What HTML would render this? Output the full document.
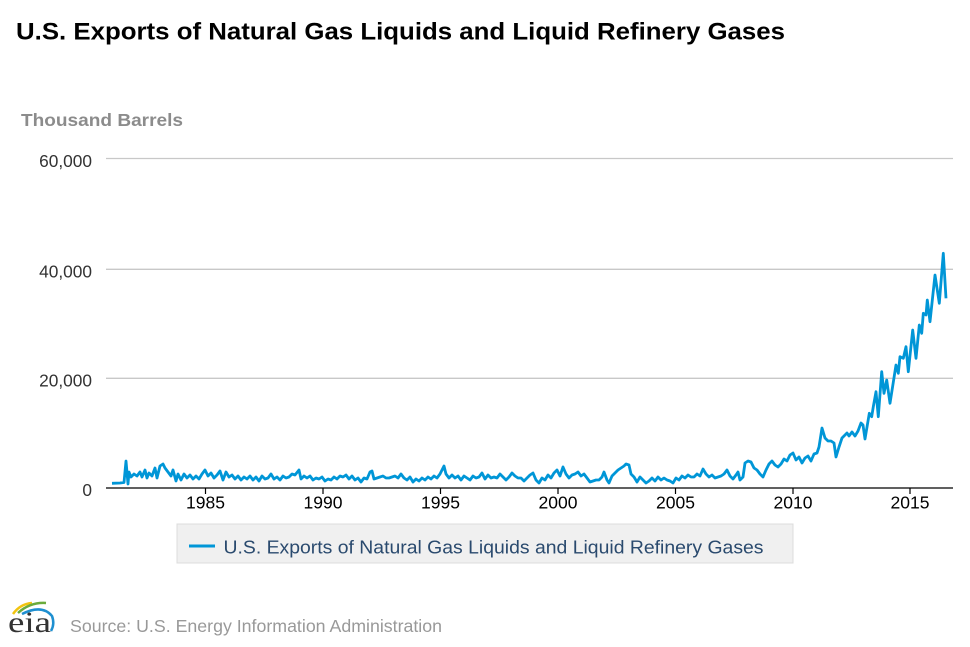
<!DOCTYPE html>
<html><head><meta charset="utf-8"><style>
html,body{margin:0;padding:0;background:#fff;}
svg{display:block;font-family:"Liberation Sans",Arial,sans-serif;}
</style></head><body>
<svg width="970" height="647" viewBox="0 0 970 647" xmlns="http://www.w3.org/2000/svg">
<rect width="970" height="647" fill="#fff"/>
<text x="16" y="39.5" font-size="24" font-weight="bold" fill="#000" textLength="769" lengthAdjust="spacingAndGlyphs">U.S. Exports of Natural Gas Liquids and Liquid Refinery Gases</text>
<text x="21" y="126" font-size="17.5" font-weight="bold" fill="#8c8c8c" textLength="162" lengthAdjust="spacingAndGlyphs">Thousand Barrels</text>
<g stroke="#c8c8c8" stroke-width="1.3">
<line x1="106" y1="158.5" x2="953" y2="158.5"/>
<line x1="106" y1="269.3" x2="953" y2="269.3"/>
<line x1="106" y1="378.3" x2="953" y2="378.3"/>
</g>
<g font-size="17.3" fill="#333" text-anchor="end">
<text x="92" y="167">60,000</text>
<text x="92" y="277.5">40,000</text>
<text x="92" y="386.5">20,000</text>
<text x="92" y="496">0</text>
</g>
<line x1="106" y1="488" x2="953" y2="488" stroke="#000" stroke-width="1.3"/>
<g stroke="#000" stroke-width="1.2">
<line x1="205.5" y1="488" x2="205.5" y2="494"/>
<line x1="323" y1="488" x2="323" y2="494"/>
<line x1="440.5" y1="488" x2="440.5" y2="494"/>
<line x1="558" y1="488" x2="558" y2="494"/>
<line x1="675.5" y1="488" x2="675.5" y2="494"/>
<line x1="793" y1="488" x2="793" y2="494"/>
<line x1="910" y1="488" x2="910" y2="494"/>
</g>
<g font-size="17.5" fill="#000" text-anchor="middle">
<text x="205.5" y="508.5">1985</text>
<text x="323" y="508.5">1990</text>
<text x="440.5" y="508.5">1995</text>
<text x="558" y="508.5">2000</text>
<text x="675.5" y="508.5">2005</text>
<text x="793" y="508.5">2010</text>
<text x="910" y="508.5">2015</text>
</g>
<polyline fill="none" stroke="#0096d7" stroke-width="2.8" stroke-linejoin="round" points="
112,483.3 120,483 124,482.5 126,461 128,484 129,472 131,477 134,474 137,476 140,472 142,477 145,470 147,478 149,473 152,476 155,468 157,478 160,466 163,464 165,468 168,472 171,476 173,470 176,481 178,474 181,480 184,474 187,478 190,475 193,479 196,476 199,479 202,474 205,470 208,476 211,473 214,478 217,475 220,471 223,480 226,472 229,477 232,475 235,479 238,476 241,480 244,477 247,479 250,476 253,480 256,477 259,481 262,476 265,479 268,478 271,474 274,479 277,477 280,480 283,476 286,478 289,477 292,474 295,475 299,470 301,479 304,476 307,478 310,476 313,480 316,478 319,479 322,477 325,481 328,479 331,480 334,477 337,479 340,476 343,477 346,475 349,479 352,476 355,480 358,478 361,482 364,478 367,479 370,472 372,471 374,479 377,478 380,477 383,476 386,478 389,478 392,477 395,476 398,478 401,474 404,478 407,480 410,477 413,482 416,479 419,481 422,478 425,480 428,477 431,479 434,476 437,478 440,474 442,470 444,466 446,474 449,478 452,475 455,478 458,476 461,480 464,476 467,478 470,480 473,476 476,478 479,477 482,473 485,479 488,475 491,478 494,477 497,478 500,474 503,477 506,480 509,477 512,473 515,476 518,478 521,478 524,481 527,478 530,475 533,473 536,480 539,483 542,478 545,480 548,475 551,478 554,473 557,470 560,476 563,467 566,474 569,478 572,475 575,474 578,472 581,476 584,474 587,478 590,482 593,481 596,480 599,480 602,477 604,472 607,480 609,483 612,476 615,473 618,470 621,468 624,466 626,464 629,465 631,474 634,477 637,482 640,477 643,480 646,483 649,481 652,478 655,481 658,477 661,480 664,478 667,480 670,481 673,483 676,478 679,480 682,476 685,478 688,475 691,477 694,477 697,474 700,476 703,469 706,474 709,477 712,475 715,478 718,477 721,476 724,474 727,470 730,476 733,479 736,475 738,472 740,480 743,477 745,463 748,461 751,462 754,468 757,470 760,474 763,477 766,470 769,464 772,461 775,465 778,467 781,464 784,459 787,461 790,455 793,453 796,460 799,457 802,463 805,458 808,456 811,461 814,454 817,453 819,447 822,428 825,438 828,441 831,441 834,443 836,457 839,447 842,438 845,435 847,433 849,436 852,432 855,436 858,431 861,423 863,425 865,439 869.3,413.3 871.7,416.7 873.3,406.7 876,391.7 878.3,416.7 881.7,371.7 884,393.3 886.7,380 890,403.3 896,365 898.3,373.3 900,356.7 903.3,358.3 906,346.7 908.3,371.7 912.7,330 916,358.3 919.3,325 921.7,333.3 923.3,313.3 926,315 927.3,300 930,321.7 935,275 939.3,303.3 943.3,253.3 946,298.3"/>
<rect x="177" y="524" width="616" height="39" fill="#f0f0f0" stroke="#dcdcdc" stroke-width="1"/>
<line x1="189" y1="546" x2="215" y2="546" stroke="#0096d7" stroke-width="3"/>
<text x="223.5" y="553.5" font-size="18" fill="#2a4a6e" textLength="540" lengthAdjust="spacingAndGlyphs">U.S. Exports of Natural Gas Liquids and Liquid Refinery Gases</text>
<path d="M13,614 Q20,604 32,603" fill="none" stroke="#f2c40f" stroke-width="2.5"/>
<path d="M18,613 Q30,602 46,603" fill="none" stroke="#6aab3c" stroke-width="2.5"/>
<path d="M22,614 Q42,604 52,616 Q55,624 51,631" fill="none" stroke="#1e8fd0" stroke-width="2.5"/>
<text x="8" y="632" font-family="'Liberation Serif',serif" font-size="30" fill="#333" textLength="43" lengthAdjust="spacingAndGlyphs">eia</text>
<text x="70" y="632" font-size="17.5" fill="#999" textLength="372" lengthAdjust="spacingAndGlyphs">Source: U.S. Energy Information Administration</text>
</svg>
</body></html>
